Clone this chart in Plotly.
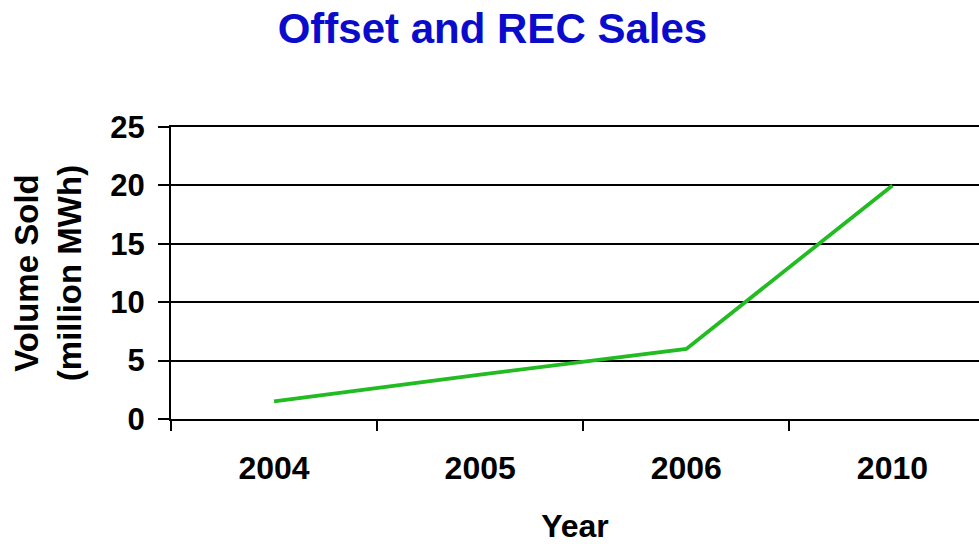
import plotly.graph_objects as go

years = ["2004", "2005", "2006", "2010"]
volume = [1.5, 3.8, 6.0, 20.0]
y_ticks = [0, 5, 10, 15, 20, 25]

FONT = "Arial, 'Liberation Sans', sans-serif"

fig = go.Figure()
fig.add_trace(go.Scatter(
    x=years, y=volume, mode="lines",
    line=dict(color="#22bb22", width=3.8),
    showlegend=False, hoverinfo="skip",
))

fig.update_layout(
    width=979, height=544,
    margin=dict(l=171, r=0, t=127, b=125),
    paper_bgcolor="white", plot_bgcolor="white",
    font=dict(family=FONT, color="black"),
    title=dict(
        text="<b>Offset and REC Sales</b>",
        font=dict(family=FONT, size=42, color="#0b0bcc"),
        x=0.503, xanchor="center", y=0.948, yanchor="middle",
    ),
)

fig.update_xaxes(
    type="category",
    range=[-0.5, 3.42],
    automargin=False,
    showline=True, linecolor="black", linewidth=2, mirror=True,
    ticks="outside", ticklen=10, tickwidth=2, tickcolor="black",
    tickson="boundaries",
    showgrid=False,
    tickfont=dict(family=FONT, size=32, color="black", weight="bold"),
    ticklabelstandoff=20,
    title=dict(text="<b>Year</b>", font=dict(family=FONT, size=32, color="black"), standoff=41),
)
fig.update_yaxes(
    range=[0, 25],
    automargin=False,
    tickvals=y_ticks,
    showline=True, linecolor="black", linewidth=2,
    ticks="outside", ticklen=11, tickwidth=2, tickcolor="black",
    showgrid=True, gridcolor="black", gridwidth=2,
    zeroline=False,
    tickfont=dict(family=FONT, size=31, color="black", weight="bold"),
    ticklabelstandoff=7,
    title=dict(text="<b>Volume Sold<br>(million MWh)</b>", font=dict(family=FONT, size=33, color="black"), standoff=19),
)

fig.write_html("out.html")
